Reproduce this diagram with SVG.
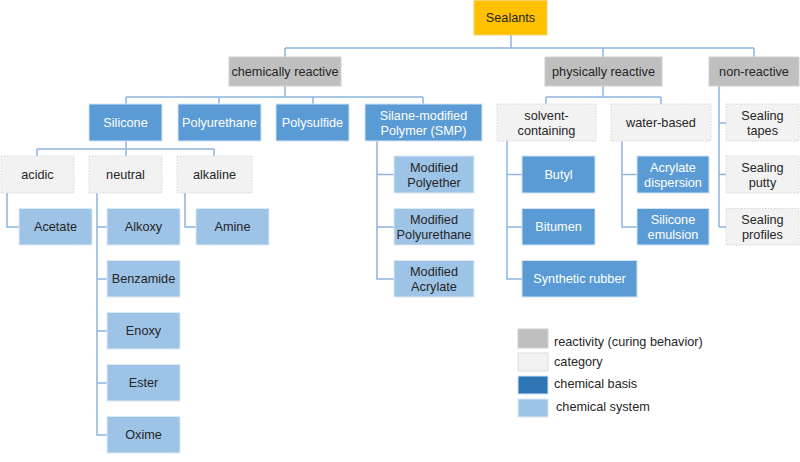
<svg xmlns="http://www.w3.org/2000/svg" width="800" height="462" viewBox="0 0 800 462">
<style>
text{font-family:"Liberation Sans",Arial,sans-serif;font-size:12.7px;text-anchor:middle}
.top{fill:#FFC000;stroke:#F5D36B;stroke-width:1}
.react{fill:#BFBFBF;stroke:#D0D0D0;stroke-width:1}
.cat{fill:#F2F2F2;stroke:#D6D6D6;stroke-width:1;stroke-dasharray:1.5 1.5}
.basis{fill:#5B9BD5;stroke:#D3E3F3;stroke-width:1}
.sys{fill:#9DC3E6;stroke:#DCE9F5;stroke-width:1}
.dk{fill:#262626}
.wt{fill:#FFFFFF}
.conn{fill:none;stroke:#8FB4DE;stroke-width:1.5}
.leg{text-anchor:start;fill:#262626}
</style>
<g id="connectors" class="conn">
<path d="M511,35V48M285,48H754M285,48V57M603,48V57M754,48V57"/>
<path d="M285,86V97M126,97H423M126,97V104M219,97V104M313,97V104M423,97V104"/>
<path d="M603,86V97M546,97H661M546,97V104M661,97V104"/>
<path d="M719,86V227M719,123H726M719,174.5H726M719,227H726"/>
<path d="M126,141V156M37,149H214M37,149V156M214,149V156"/>
<path d="M7,193V227H19"/>
<path d="M97,193V435H107M97,227H107M97,279H107M97,331H107M97,383H107"/>
<path d="M185,193V227H196"/>
<path d="M377,141V279H394M377,174.5H394M377,227H394"/>
<path d="M507,141V279H522M507,174.5H522M507,227H522"/>
<path d="M622,141V227H637M622,174.5H637"/>
</g>
<g id="sealants"><rect class="top" x="474" y="0.5" width="73" height="34.5"/><text class="dk" x="510.5" y="22">Sealants</text></g>
<g id="chemically-reactive"><rect class="react" x="229" y="57" width="112" height="29"/><text class="dk" x="285" y="76">chemically reactive</text></g>
<g id="physically-reactive"><rect class="react" x="545" y="57" width="117" height="29"/><text class="dk" x="603.5" y="76">physically reactive</text></g>
<g id="non-reactive"><rect class="react" x="709" y="57" width="90" height="29"/><text class="dk" x="754" y="76">non-reactive</text></g>
<g id="silicone"><rect class="basis" x="89" y="104" width="73" height="37"/><text class="wt" x="125.5" y="127">Silicone</text></g>
<g id="polyurethane"><rect class="basis" x="178" y="104" width="83" height="37"/><text class="wt" x="219.5" y="127">Polyurethane</text></g>
<g id="polysulfide"><rect class="basis" x="276" y="104" width="73" height="37"/><text class="wt" x="312.5" y="127">Polysulfide</text></g>
<g id="smp"><rect class="basis" x="365" y="104" width="117" height="37"/><text class="wt" x="423.5" y="120">Silane-modified</text><text class="wt" x="423.5" y="135">Polymer (SMP)</text></g>
<g id="solvent-containing"><rect class="cat" x="497" y="104" width="99" height="37"/><text class="dk" x="546.5" y="120">solvent-</text><text class="dk" x="546.5" y="135">containing</text></g>
<g id="water-based"><rect class="cat" x="611" y="104" width="100" height="37"/><text class="dk" x="661" y="127">water-based</text></g>
<g id="sealing-tapes"><rect class="cat" x="726" y="104" width="73" height="37"/><text class="dk" x="762.5" y="120">Sealing</text><text class="dk" x="762.5" y="135">tapes</text></g>
<g id="acidic"><rect class="cat" x="1" y="156" width="73" height="37"/><text class="dk" x="37.5" y="179">acidic</text></g>
<g id="neutral"><rect class="cat" x="89" y="156" width="73" height="37"/><text class="dk" x="125.5" y="179">neutral</text></g>
<g id="alkaline"><rect class="cat" x="177" y="156" width="75" height="37"/><text class="dk" x="214.5" y="179">alkaline</text></g>
<g id="modified-polyether"><rect class="sys" x="394" y="156" width="80" height="37"/><text class="dk" x="434" y="172">Modified</text><text class="dk" x="434" y="187">Polyether</text></g>
<g id="butyl"><rect class="basis" x="522" y="156" width="73" height="37"/><text class="wt" x="558.5" y="179">Butyl</text></g>
<g id="acrylate-dispersion"><rect class="basis" x="637" y="156" width="72" height="37"/><text class="wt" x="673" y="172">Acrylate</text><text class="wt" x="673" y="187">dispersion</text></g>
<g id="sealing-putty"><rect class="cat" x="726" y="156" width="73" height="37"/><text class="dk" x="762.5" y="172">Sealing</text><text class="dk" x="762.5" y="187">putty</text></g>
<g id="acetate"><rect class="sys" x="19" y="208.5" width="73" height="36.5"/><text class="dk" x="55.5" y="231">Acetate</text></g>
<g id="alkoxy"><rect class="sys" x="107" y="208.5" width="73" height="36.5"/><text class="dk" x="143.5" y="231">Alkoxy</text></g>
<g id="amine"><rect class="sys" x="196" y="208.5" width="73" height="36.5"/><text class="dk" x="232.5" y="231">Amine</text></g>
<g id="modified-polyurethane"><rect class="sys" x="394" y="208.5" width="80" height="36.5"/><text class="dk" x="434" y="224">Modified</text><text class="dk" x="434" y="239">Polyurethane</text></g>
<g id="bitumen"><rect class="basis" x="522" y="208.5" width="73" height="36.5"/><text class="wt" x="558.5" y="231">Bitumen</text></g>
<g id="silicone-emulsion"><rect class="basis" x="637" y="208.5" width="72" height="36.5"/><text class="wt" x="673" y="224">Silicone</text><text class="wt" x="673" y="239">emulsion</text></g>
<g id="sealing-profiles"><rect class="cat" x="726" y="208.5" width="73" height="36.5"/><text class="dk" x="762.5" y="224">Sealing</text><text class="dk" x="762.5" y="239">profiles</text></g>
<g id="benzamide"><rect class="sys" x="107" y="260.5" width="73" height="36.5"/><text class="dk" x="143.5" y="283">Benzamide</text></g>
<g id="modified-acrylate"><rect class="sys" x="394" y="260.5" width="80" height="36.5"/><text class="dk" x="434" y="276">Modified</text><text class="dk" x="434" y="291">Acrylate</text></g>
<g id="synthetic-rubber"><rect class="basis" x="522" y="260.5" width="115" height="36.5"/><text class="wt" x="579.5" y="283">Synthetic rubber</text></g>
<g id="enoxy"><rect class="sys" x="107" y="312.5" width="73" height="36.5"/><text class="dk" x="143.5" y="335">Enoxy</text></g>
<g id="ester"><rect class="sys" x="107" y="364.5" width="73" height="36.5"/><text class="dk" x="143.5" y="387">Ester</text></g>
<g id="oxime"><rect class="sys" x="107" y="416.5" width="73" height="36.5"/><text class="dk" x="143.5" y="439">Oxime</text></g>
<g id="legend">
<rect class="react" x="518" y="329" width="30" height="19"/><text class="leg" x="554" y="346">reactivity (curing behavior)</text>
<rect class="cat" x="518" y="353" width="30" height="18" style="stroke-dasharray:none;stroke:#DCDCDC"/><text class="leg" x="554" y="366">category</text>
<rect x="518" y="376" width="30" height="18" fill="#2E75B6" stroke="#D3E3F3"/><text class="leg" x="554" y="388">chemical basis</text>
<rect class="sys" x="518" y="399" width="30" height="18"/><text class="leg" x="556" y="411">chemical system</text>
</g>
</svg>
